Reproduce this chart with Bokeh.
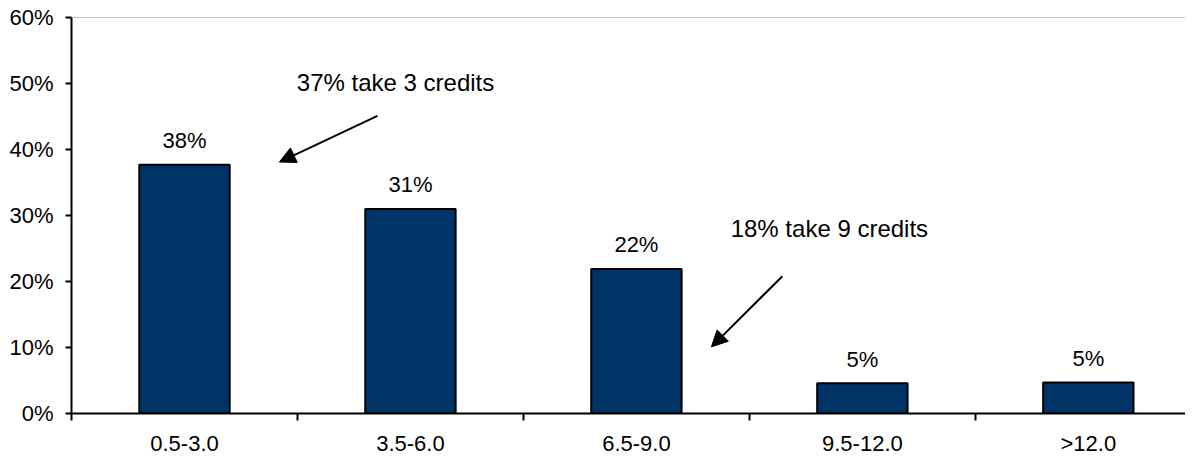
from bokeh.plotting import figure
from bokeh.models import (ColumnDataSource, Range1d, FixedTicker, PrintfTickFormatter,
                          Arrow, NormalHead, Span, Label)
from bokeh.embed import file_html
from bokeh.resources import INLINE
from bokeh.core.properties import value

# ---- data ----
categories = ["0.5-3.0", "3.5-6.0", "6.5-9.0", "9.5-12.0", ">12.0"]
shares = [37.7, 31.0, 21.9, 4.6, 4.7]          # percent of students
bar_labels = ["38%", "31%", "22%", "5%", "5%"]
y_ticks = [0, 10, 20, 30, 40, 50, 60]

FONT = "Liberation Sans"
centers = [i + 0.5 for i in range(len(categories))]
src = ColumnDataSource(dict(x=centers, top=shares, lab=bar_labels))

p = figure(width=1185, height=458, output_backend="svg", toolbar_location=None,
           x_range=Range1d(0, 4.93), y_range=Range1d(0, 60),
           min_border_left=71, min_border_right=0, min_border_top=17, min_border_bottom=42)
p.outline_line_color = None
p.xgrid.visible = False
p.ygrid.visible = False

p.vbar(x="x", top="top", width=0.4, bottom=0, source=src,
       fill_color="#003366", line_color="black", line_width=2)

p.text(x="x", y="top", text="lab", source=src, text_align="center",
       text_baseline="middle", y_offset=-24, text_font=value(FONT),
       text_font_size="22px", text_color="black")

# top line of plot area
p.add_layout(Span(location=60, dimension="width", line_color="#808080", line_width=1))

# x axis: tick marks at category boundaries, labels at centers
xa = p.xaxis[0]
xa.ticker = FixedTicker(ticks=centers, minor_ticks=list(range(len(categories) + 1)))
xa.major_label_overrides = {c: lab for c, lab in zip(centers, categories)}
xa.major_tick_out = 0
xa.major_tick_in = 0
xa.minor_tick_out = 7
xa.minor_tick_in = 0
xa.minor_tick_line_width = 2
xa.minor_tick_line_color = "black"
xa.axis_line_width = 2
xa.axis_line_color = "black"
xa.major_label_standoff = 10
xa.major_label_text_font = FONT
xa.major_label_text_font_size = "22px"
xa.major_label_text_color = "black"

ya = p.yaxis[0]
ya.ticker = FixedTicker(ticks=y_ticks, minor_ticks=[])
ya.formatter = PrintfTickFormatter(format="%d%%")
ya.major_tick_out = 6
ya.major_tick_in = 0
ya.major_tick_line_width = 2
ya.major_tick_line_color = "black"
ya.axis_line_width = 2
ya.axis_line_color = "black"
ya.major_label_standoff = 12
ya.major_label_text_font = FONT
ya.major_label_text_font_size = "22px"
ya.major_label_text_color = "black"

# annotations
p.add_layout(Label(x=1.434, y=50.1, text="37% take 3 credits", text_align="center",
                   text_baseline="middle", text_font=FONT, text_font_size="24px",
                   text_color="black"))
p.add_layout(Arrow(x_start=1.354, y_start=45.1, x_end=0.920, y_end=38.1,
                   line_color="black", line_width=2,
                   end=NormalHead(size=16, fill_color="black", line_color="black")))
p.add_layout(Label(x=3.354, y=28.0, text="18% take 9 credits", text_align="center",
                   text_baseline="middle", text_font=FONT, text_font_size="24px",
                   text_color="black"))
p.add_layout(Arrow(x_start=3.146, y_start=20.8, x_end=2.832, y_end=10.1,
                   line_color="black", line_width=2,
                   end=NormalHead(size=16, fill_color="black", line_color="black")))

open("out.html", "w").write(file_html(p, INLINE))
